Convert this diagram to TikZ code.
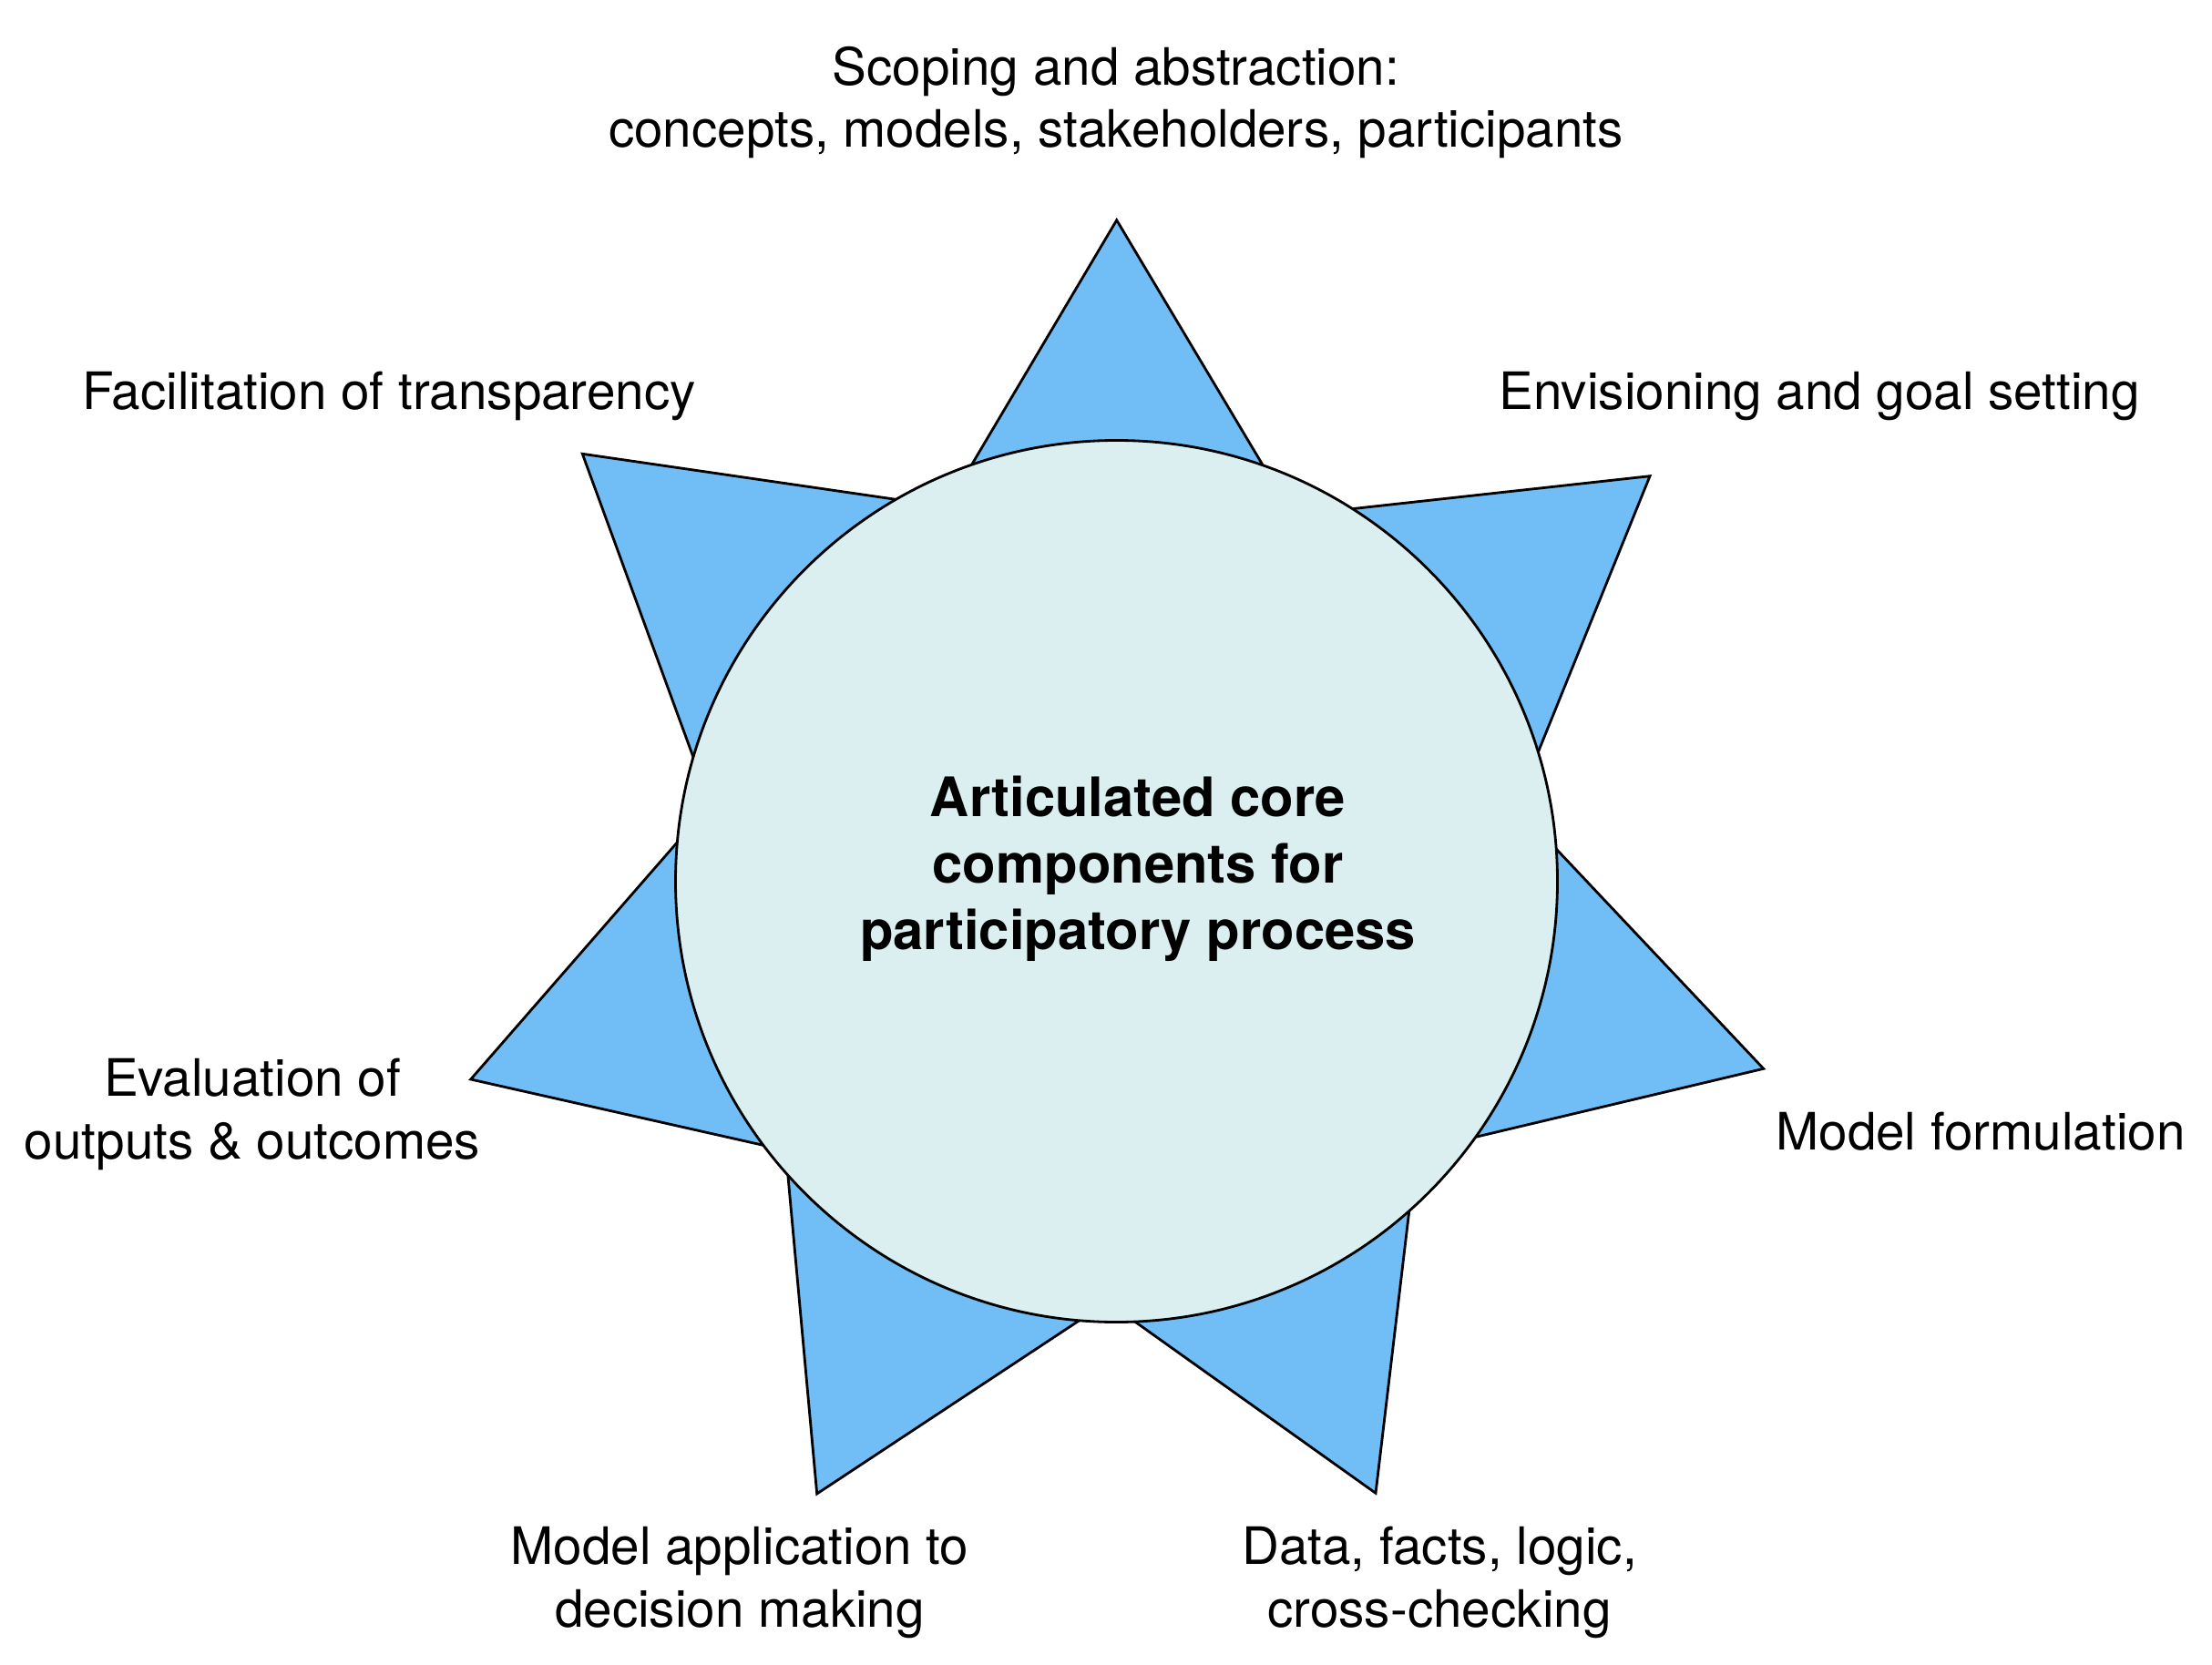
\documentclass[tikz,border=0pt]{standalone}
\usepackage{fontspec}
\setmainfont{TeX Gyre Heros}
\usetikzlibrary{calc}
\definecolor{spikeblue}{RGB}{113,190,246}
\definecolor{corefill}{RGB}{219,239,240}
\begin{document}
\begin{tikzpicture}[
  spike/.style={fill=spikeblue,draw=black,line width=0.8pt,line join=miter},
  lbl/.style={inner sep=0pt,align=center,anchor=base,font=\fontsize{16.1}{19.5}\selectfont},
  corecircle/.style={circle,draw=black,fill=corefill,line width=0.8pt,minimum size=9.68cm,inner sep=0pt},
  titletext/.style={inner sep=0pt,align=center,anchor=base,font=\fontsize{17}{20.7}\selectfont\bfseries}
]
\useasboundingbox (0,0) rectangle (24.28,-18.28);
\coordinate (c) at (12.255,-9.675);
% spikes: tip, base a, base b
\foreach \tx/\ty/\ax/\ay/\bx/\by in {
  12.257/-2.417/10.667/-5.10/13.857/-5.10,
  18.11/-5.227/14.873/-5.583/16.893/-8.233,
  19.357/-11.733/17.093/-9.333/16.127/-12.50,
  15.10/-16.393/15.467/-13.30/12.467/-14.517,
  8.967/-16.40/11.817/-14.517/8.65/-12.917,
  5.167/-11.85/8.35/-12.567/7.417/-9.267,
  6.393/-4.983/9.833/-5.483/7.593/-8.267}{
  \coordinate (t) at (\tx,\ty);
  \coordinate (a) at (\ax,\ay);
  \coordinate (b) at (\bx,\by);
  \draw[spike] (t) -- ($(t)!1.15!(a)$) -- (c) -- ($(t)!1.15!(b)$) -- cycle;
}
\node[corecircle] (core) at (c) {};
\node[titletext] (title) at (12.49,-10.42) {Articulated core\\components for\\participatory process};
\node[lbl] (scope) at (12.25,-1.62) {Scoping and abstraction:\\concepts, models, stakeholders, participants};
\node[lbl] (facil) at (4.27,-4.50) {Facilitation of transparency};
\node[lbl] (envis) at (19.97,-4.50) {Envisioning and goal setting};
\node[lbl] (formul) at (21.74,-12.62) {Model formulation};
\node[lbl] (data) at (15.80,-17.86) {Data, facts, logic,\\cross-checking};
\node[lbl] (appl) at (8.12,-17.86) {Model application to\\decision making};
\node[lbl] (evalu) at (2.77,-12.72) {Evaluation of\\outputs \& outcomes};
\end{tikzpicture}
\end{document}
